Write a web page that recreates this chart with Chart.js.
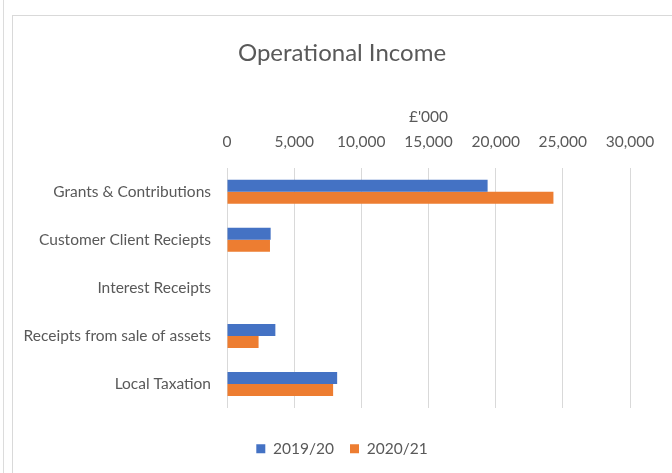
<!DOCTYPE html>
<html>
<head>
<meta charset="utf-8">
<script src="https://cdn.jsdelivr.net/npm/chart.js@4"></script>
<style>
  html, body { margin: 0; padding: 0; background: #fff; }
  body { width: 672px; height: 473px; position: relative; overflow: hidden; }
  .edge { position: absolute; left: 3px; top: 0; width: 1px; height: 473px; background: #dcdcdc; }
  .frame { position: absolute; left: 12px; top: 15px; width: 700px; height: 500px; border: 1px solid #d9d9d9; }
  #wrap { position: absolute; left: 0; top: 0; width: 672px; height: 473px; }
</style>
</head>
<body>
<div class="edge"></div>
<div class="frame"></div>
<div id="wrap"><canvas id="incomeChart"></canvas></div>
<script>
  // Operational income by source, £'000
  const categories = [
    "Grants & Contributions",
    "Customer Client Reciepts",
    "Interest Receipts",
    "Receipts from sale of assets",
    "Local Taxation"
  ];
  const seriesNames = ["2019/20", "2020/21"];
  const income1920 = [19400, 3250, 0, 3600, 8200];
  const income2021 = [24300, 3200, 0, 2350, 7900];

  const FONT = 'Lato, "Open Sans", sans-serif';
  const TEXT = "#595959";
  const GRID = "#d9d9d9";

  const ctx = document.getElementById("incomeChart");

  new Chart(ctx, {
    type: "bar",
    data: {
      labels: categories,
      datasets: [
        {
          label: seriesNames[0],
          data: income1920,
          backgroundColor: "#4472C4",
          barPercentage: 1,
          categoryPercentage: 0.5
        },
        {
          label: seriesNames[1],
          data: income2021,
          backgroundColor: "#ED7D31",
          barPercentage: 1,
          categoryPercentage: 0.5
        }
      ]
    },
    options: {
      indexAxis: "y",
      responsive: true,
      maintainAspectRatio: false,
      animation: false,
      layout: {
        padding: { left: 12, right: 0, top: 17, bottom: 6.5 }
      },
      plugins: {
        title: {
          display: true,
          text: "Operational Income",
          color: TEXT,
          font: { family: FONT, size: 24, weight: "normal" },
          padding: { top: 22, bottom: 0 }
        },
        legend: {
          position: "bottom",
          // blank title only adds space between the plot and the legend
          title: {
            display: true,
            text: " ",
            font: { size: 10 },
            padding: { top: 3, bottom: 2 }
          },
          labels: {
            color: TEXT,
            font: { family: FONT, size: 15.5 },
            boxWidth: 9,
            boxHeight: 9,
            padding: 16
          }
        },
        tooltip: { enabled: false }
      },
      scales: {
        x: {
          position: "top",
          min: 0,
          max: 30000,
          ticks: {
            stepSize: 5000,
            color: TEXT,
            font: { family: FONT, size: 15.5 },
            padding: 17,
            maxRotation: 0,
            callback: (v) => v.toLocaleString("en-GB")
          },
          grid: { color: GRID, drawTicks: false },
          border: { display: false },
          title: {
            display: true,
            text: "£'000",
            color: TEXT,
            font: { family: FONT, size: 15.5 },
            padding: { top: 40, bottom: 0 }
          },
          afterFit: (scale) => { scale.height = 100; }
        },
        y: {
          ticks: {
            color: TEXT,
            font: { family: FONT, size: 15.5 },
            padding: 8
          },
          grid: { display: false },
          border: { display: false },
          afterFit: (scale) => { scale.width = 215; }
        },
        // empty right-hand margin so the plot ends at the 30,000 line
        yRight: {
          type: "category",
          position: "right",
          ticks: { display: false },
          grid: { display: false },
          border: { display: false },
          afterFit: (scale) => { scale.width = 42; }
        }
      }
    }
  });
</script>
</body>
</html>
